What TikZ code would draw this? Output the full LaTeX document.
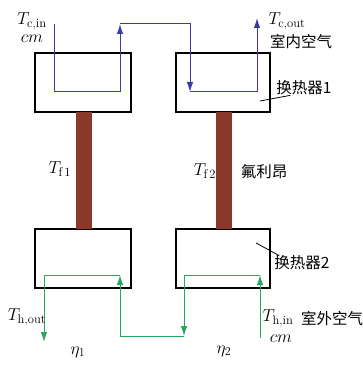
\documentclass[tikz,border=0pt]{standalone}
\usepackage{fontspec}
\newfontfamily\cjk{Noto Sans CJK SC}
\usetikzlibrary{arrows.meta, positioning}
\definecolor{coldBlue}{RGB}{58,58,168}
\definecolor{hotGreen}{RGB}{40,165,95}
\definecolor{rodBrown}{RGB}{140,56,42}
\tikzset{
    >={Latex[length=10pt,width=6.5pt]},
    % boxes and rods
    hxbox/.style={rectangle, draw=black, line width=1.1pt, minimum width=96pt, minimum height=59pt, inner sep=0pt},
    rod/.style={rectangle, fill=rodBrown, minimum width=16pt, minimum height=117pt, inner sep=0pt},
    % flows
    coldflow/.style={coldBlue, line width=1pt},
    hotflow/.style={hotGreen, line width=1pt},
    % labels
    lbl/.style={font=\fontsize{18}{20}\selectfont, inner sep=0pt},
    cnlbl/.style={font=\cjk\fontsize{15.5}{17}\selectfont, inner sep=0pt},
    leader/.style={black, line width=0.8pt}
}

\begin{document}
\begin{tikzpicture}[x=1pt, y=-1pt]
\useasboundingbox (0,0) rectangle (362,366);

% heat exchangers
\node[hxbox] (hx1) at (83,82.5) {};
\node[hxbox, minimum width=94pt] (hx2) at (223,82.5) {};
\node[hxbox] (hx3) at (83,258.5) {};
\node[hxbox, minimum width=94pt] (hx4) at (223,258.5) {};

% freon rods
\node[rod] (rod1) at (84,170.5) {};
\node[rod] (rod2) at (224,170.5) {};

% cold side (indoor air)
\coordinate (cin) at (54,24);
\coordinate (b2) at (120,92);
\coordinate (b3) at (120,24);
\coordinate (b5) at (190,92);
\coordinate (cout) at (257,18);
\draw[coldflow, ->] (cin) |- (b2) -- (b3);
\draw[coldflow, ->] (b3) -| (b5);
\draw[coldflow, ->] (b5) -| (cout);

% hot side (outdoor air)
\coordinate (hin) at (260,338);
\coordinate (g1) at (260,275);
\coordinate (g3) at (184,336);
\coordinate (g4) at (120,336);
\coordinate (g5) at (120,275);
\coordinate (hout) at (44,342);
\draw[hotflow, ->] (hin) -- (g1);
\draw[hotflow, ->] (g1) -| (g3);
\draw[hotflow, ->] (g3) -- (g4) -- (g5);
\draw[hotflow, ->] (g5) -| (hout);

% labels
\node[lbl] (tcin) at (32,21) {$T_{\mathrm{c,in}}$};
\node[lbl] (cm1) at (32,39) {$cm$};
\node[lbl] (tcout) at (287,21) {$T_{\mathrm{c,out}}$};
\node[cnlbl] (indoor) at (301,42) {室内空气};
\node[cnlbl] (hxname1) at (304,88) {换热器1};
\node[lbl] (tf1) at (60,169) {$T_{\mathrm{f\,1}}$};
\node[lbl] (tf2) at (205,171) {$T_{\mathrm{f\,2}}$};
\node[cnlbl] (freon) at (264,172) {氟利昂};
\node[cnlbl] (hxname2) at (302,263) {换热器2};
\node[lbl] (thout) at (27,317) {$T_{\mathrm{h,out}}$};
\node[lbl] (thin) at (278,318) {$T_{\mathrm{h,in}}$};
\node[cnlbl] (outdoor) at (332,319) {室外空气};
\node[lbl] (cm2) at (281,339) {$cm$};
\node[lbl] (eta1) at (78,352) {$\eta_1$};
\node[lbl] (eta2) at (224,351) {$\eta_2$};

% leader lines
\coordinate (ld1) at (260,101);
\coordinate (ld2) at (256,243);
\draw[leader] (ld1) -- ([xshift=14pt]hxname1.south west);
\draw[leader] (ld2) -- ([xshift=5pt]hxname2.north west);

\end{tikzpicture}
\end{document}
